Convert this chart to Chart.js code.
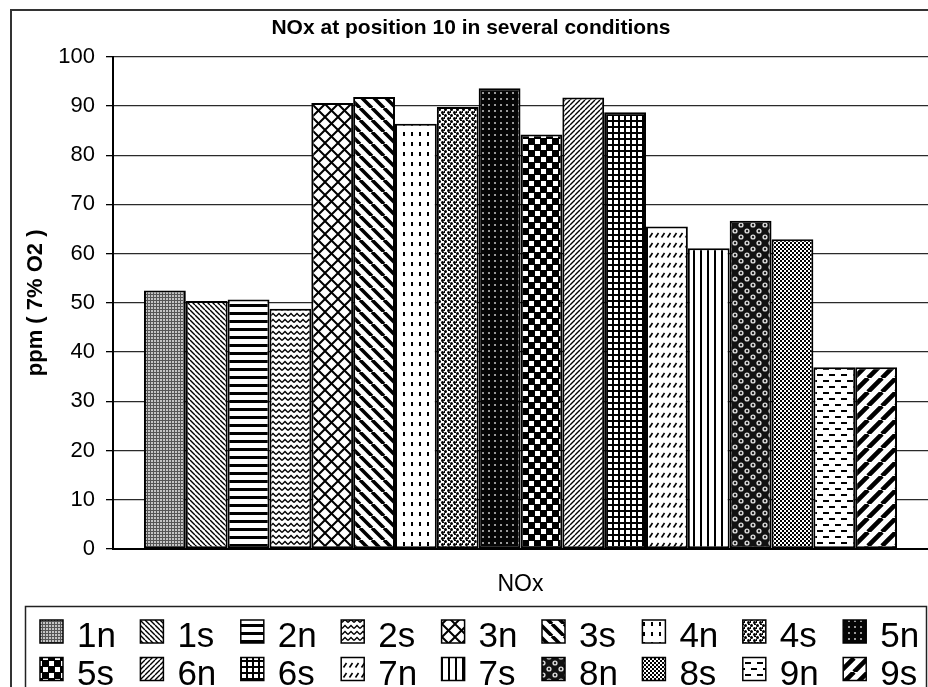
<!DOCTYPE html>
<html>
<head>
<meta charset="utf-8">
<script src="https://cdn.jsdelivr.net/npm/chart.js@4.4.1/dist/chart.umd.min.js"></script>
<style>
  html, body { margin: 0; padding: 0; background: #fff; }
  canvas { display: block; }
</style>
</head>
<body>
<canvas id="c" width="928" height="687"></canvas>
<script>
// Measured NOx at position 10 (ppm, corrected to 7% O2), one bar per condition
const categories = ['NOx'];
const conditions = ['1n', '1s', '2n', '2s', '3n', '3s', '4n', '4s', '5n',
                    '5s', '6n', '6s', '7n', '7s', '8n', '8s', '9n', '9s'];
const noxValues = [52.5, 50.4, 50.7, 48.8, 90.6, 91.8, 86.4, 89.8, 93.6,
                   84.2, 91.7, 88.7, 65.5, 61.1, 66.7, 62.9, 36.9, 36.9];
const yTicks = [0, 10, 20, 30, 40, 50, 60, 70, 80, 90, 100];

const FONT = 'Liberation Sans, Arial, Helvetica, sans-serif';
const canvas = document.getElementById('c');
const ctx = canvas.getContext('2d');

// ---- black & white fill patterns --------------------------------------
function tile(w, h, draw, bg) {
  const t = document.createElement('canvas');
  t.width = w; t.height = h;
  const g = t.getContext('2d');
  g.fillStyle = bg || '#fff';
  g.fillRect(0, 0, w, h);
  g.fillStyle = '#000';
  g.strokeStyle = '#000';
  draw(g, w, h);
  return ctx.createPattern(t, 'repeat');
}
function back(g, p, lw) {          // "\" stripes
  g.lineWidth = lw;
  g.beginPath();
  for (let k = -1; k <= 1; k++) { g.moveTo(k * p, 0); g.lineTo(k * p + p, p); }
  g.stroke();
}
function fwd(g, p, lw) {           // "/" stripes
  g.lineWidth = lw;
  g.beginPath();
  for (let k = -1; k <= 1; k++) { g.moveTo(k * p, p); g.lineTo(k * p + p, 0); }
  g.stroke();
}
function dot(g, x, y, r) { g.beginPath(); g.arc(x, y, r, 0, Math.PI * 2); g.fill(); }

const patterns = [
  // 1n fine mesh
  tile(3, 3, g => { g.fillStyle = '#555'; g.fillRect(0, 0, 3, 1); g.fillRect(0, 0, 1, 3); }, '#c4c4c4'),
  // 1s thin "\" lines
  tile(5, 5, g => back(g, 5, 1.4)),
  // 2n horizontal bars
  tile(8, 8, g => g.fillRect(0, 0, 8, 3)),
  // 2s zigzag
  tile(6, 6, g => { g.lineWidth = 1.4; g.beginPath(); g.moveTo(0, 4.5); g.lineTo(3, 1.5); g.lineTo(6, 4.5); g.stroke(); }),
  // 3n diagonal crosshatch
  tile(13, 13, g => { back(g, 13, 2.0); fwd(g, 13, 2.0); }),
  // 3s wide "\" stripes
  tile(12, 12, g => back(g, 12, 3.6)),
  // 4n vertical dashes
  tile(8, 10, g => g.fillRect(3, 2, 2, 4)),
  // 4s grain
  tile(6, 6, g => { dot(g, 1.5, 1.5, 1.5); dot(g, 4.5, 4.5, 1.5); g.fillRect(4, 0, 2, 1); g.fillRect(0, 3, 1, 2); }),
  // 5n dark with light dots
  tile(6, 6, g => { g.fillStyle = '#999'; g.fillRect(2, 2, 2, 2); }, '#050505'),
  // 5s checker blocks
  tile(12, 12, g => { g.fillStyle = '#fff'; g.fillRect(1, 1, 5, 5); g.fillRect(7, 7, 5, 5); }, '#000'),
  // 6n thin "/" lines
  tile(5, 5, g => fwd(g, 5, 1.4)),
  // 6s grid
  tile(6, 6, g => { g.fillRect(0, 0, 6, 2); g.fillRect(0, 0, 2, 6); }),
  // 7n short "/" dashes in rows
  tile(6, 10, g => { g.lineWidth = 1.6; g.beginPath(); g.moveTo(1.5, 7.5); g.lineTo(4.5, 3); g.stroke(); }),
  // 7s vertical lines
  tile(7, 7, g => g.fillRect(0, 0, 2, 7)),
  // 8n rings on dark
  tile(12, 12, g => {
    g.fillStyle = '#ddd'; dot(g, 3, 3, 2.6); dot(g, 9, 9, 2.6);
    g.fillStyle = '#222'; dot(g, 3, 3, 1.2); dot(g, 9, 9, 1.2);
  }, '#111'),
  // 8s fine checker
  tile(4, 4, g => { g.fillRect(0, 0, 2, 2); g.fillRect(2, 2, 2, 2); }),
  // 9n horizontal dashes, staggered
  tile(12, 12, g => { g.fillRect(1, 2, 6, 2); g.fillRect(7, 8, 6, 2); g.fillRect(-5, 8, 6, 2); }),
  // 9s wide "/" stripes
  tile(14, 14, g => fwd(g, 14, 4.6))
];

const datasets = conditions.map((name, i) => ({
  label: name,
  data: [noxValues[i]],
  backgroundColor: patterns[i],
  borderColor: '#000',
  borderWidth: 2,
  borderSkipped: false,
  categoryPercentage: 0.924,
  barPercentage: 1.0
}));

// page frame, white background and the boxed legend
const framePlugin = {
  id: 'frame',
  beforeDraw(chart) {
    const c = chart.ctx;
    c.save();
    c.fillStyle = '#fff';
    c.fillRect(0, 0, chart.width, chart.height);
    c.strokeStyle = '#333';
    c.lineWidth = 2;
    c.strokeRect(11, 10, chart.width + 20, chart.height + 20);
    c.restore();
  },
  afterDraw(chart) {
    const c = chart.ctx;
    c.save();
    c.strokeStyle = '#222';
    c.lineWidth = 1.5;
    c.strokeRect(25.5, 606.5, 901, 120);
    c.font = '35px ' + FONT;
    c.textBaseline = 'alphabetic';
    c.textAlign = 'left';
    chart.data.datasets.forEach((ds, i) => {
      const col = i % 9, row = Math.floor(i / 9);
      const x = 40 + col * 100.4;
      const y = 620 + row * 37.5;
      c.fillStyle = ds.backgroundColor;
      c.fillRect(x, y, 23, 23);
      c.strokeStyle = '#000';
      c.lineWidth = 1.5;
      c.strokeRect(x, y, 23, 23);
      c.fillStyle = '#000';
      c.fillText(ds.label, x + 37, y + 27);
    });
    c.restore();
  }
};

Chart.defaults.font.family = FONT;
Chart.defaults.color = '#000';

new Chart(ctx, {
  type: 'bar',
  data: { labels: categories, datasets },
  plugins: [framePlugin],
  options: {
    responsive: false,
    animation: false,
    layout: { padding: { left: 14, right: 0, top: 0, bottom: 88 } },
    plugins: {
      legend: { display: false },
      tooltip: { enabled: false },
      title: {
        display: true,
        text: 'NOx at position 10 in several conditions',
        color: '#000',
        font: { family: FONT, size: 21, weight: 'bold' },
        padding: { top: 16, bottom: 15.5 }
      }
    },
    scales: {
      x: {
        grid: { display: false, drawTicks: false },
        border: { color: '#000', width: 2 },
        ticks: { color: '#000', font: { size: 23 }, padding: 22 },
        afterFit(s) { s.height = 50; }
      },
      y: {
        min: 0,
        max: 100,
        afterBuildTicks(s) { s.ticks = yTicks.map(v => ({ value: v })); },
        ticks: { color: '#000', font: { size: 22 }, padding: 11 },
        grid: { color: '#2a2a2a', lineWidth: 1.3, tickLength: 7, tickColor: '#000' },
        border: { color: '#000', width: 2 },
        title: {
          display: true,
          text: 'ppm ( 7% O2 )',
          color: '#000',
          font: { size: 22, weight: 'bold' },
          padding: { top: 9, bottom: 0 }
        },
        afterFit(s) { s.width = 99; }
      }
    }
  }
});
</script>
</body>
</html>
